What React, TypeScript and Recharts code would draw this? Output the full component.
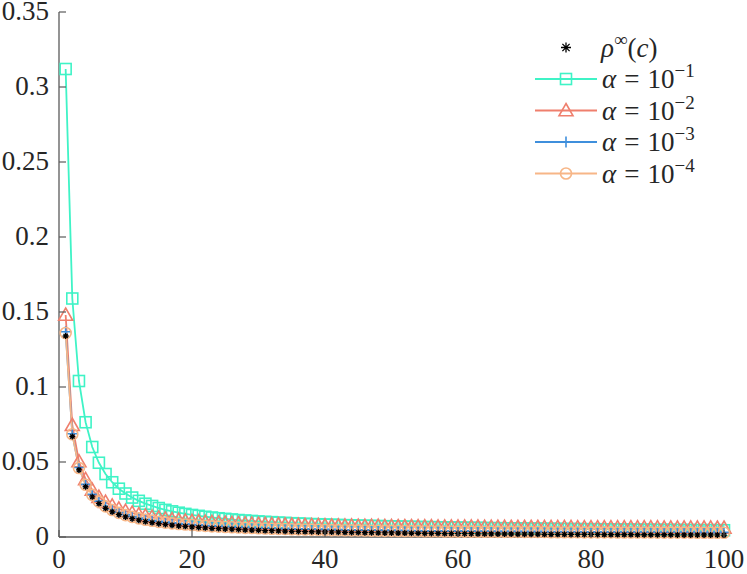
import React from 'react';
import { LineChart, Line, XAxis, YAxis } from 'recharts';

// values, c = 1..100
const rhoInf = [
  0.1340, 0.0670, 0.0447, 0.0335, 0.0268, 0.0223, 0.0191, 0.0168, 0.0149, 0.0134,
  0.0122, 0.0112, 0.0103, 0.0096, 0.0089, 0.0084, 0.0079, 0.0074, 0.0071, 0.0067,
  0.0064, 0.0061, 0.0058, 0.0056, 0.0054, 0.0052, 0.0050, 0.0048, 0.0046, 0.0045,
  0.0043, 0.0042, 0.0041, 0.0039, 0.0038, 0.0037, 0.0036, 0.0035, 0.0034, 0.0034,
  0.0033, 0.0032, 0.0031, 0.0030, 0.0030, 0.0029, 0.0029, 0.0028, 0.0027, 0.0027,
  0.0026, 0.0026, 0.0025, 0.0025, 0.0024, 0.0024, 0.0024, 0.0023, 0.0023, 0.0022,
  0.0022, 0.0022, 0.0021, 0.0021, 0.0021, 0.0020, 0.0020, 0.0020, 0.0019, 0.0019,
  0.0019, 0.0019, 0.0018, 0.0018, 0.0018, 0.0018, 0.0017, 0.0017, 0.0017, 0.0017,
  0.0017, 0.0016, 0.0016, 0.0016, 0.0016, 0.0016, 0.0015, 0.0015, 0.0015, 0.0015,
  0.0015, 0.0015, 0.0014, 0.0014, 0.0014, 0.0014, 0.0014, 0.0014, 0.0014, 0.0013,
];

const alpha1 = [
  0.3120, 0.1590, 0.1040, 0.0765, 0.0600, 0.0495, 0.0420, 0.0365, 0.0322, 0.0290,
  0.0263, 0.0241, 0.0222, 0.0207, 0.0193, 0.0181, 0.0171, 0.0162, 0.0154, 0.0147,
  0.0141, 0.0135, 0.0130, 0.0125, 0.0121, 0.0117, 0.0113, 0.0110, 0.0107, 0.0104,
  0.0101, 0.0099, 0.0096, 0.0094, 0.0092, 0.0090, 0.0088, 0.0086, 0.0085, 0.0083,
  0.0082, 0.0080, 0.0079, 0.0078, 0.0076, 0.0075, 0.0074, 0.0073, 0.0072, 0.0071,
  0.0070, 0.0069, 0.0068, 0.0067, 0.0066, 0.0066, 0.0065, 0.0064, 0.0063, 0.0063,
  0.0062, 0.0061, 0.0061, 0.0060, 0.0059, 0.0059, 0.0058, 0.0058, 0.0057, 0.0057,
  0.0056, 0.0056, 0.0055, 0.0055, 0.0054, 0.0054, 0.0053, 0.0053, 0.0052, 0.0052,
  0.0052, 0.0051, 0.0051, 0.0050, 0.0050, 0.0050, 0.0049, 0.0049, 0.0049, 0.0048,
  0.0048, 0.0048, 0.0047, 0.0047, 0.0047, 0.0046, 0.0046, 0.0046, 0.0046, 0.0045,
];

const alpha2 = [
  0.1480, 0.0745, 0.0503, 0.0384, 0.0313, 0.0266, 0.0232, 0.0207, 0.0188, 0.0172,
  0.0160, 0.0149, 0.0141, 0.0133, 0.0127, 0.0121, 0.0116, 0.0112, 0.0108, 0.0105,
  0.0102, 0.0099, 0.0097, 0.0095, 0.0093, 0.0091, 0.0089, 0.0088, 0.0086, 0.0085,
  0.0084, 0.0083, 0.0082, 0.0081, 0.0080, 0.0079, 0.0078, 0.0077, 0.0077, 0.0076,
  0.0075, 0.0075, 0.0074, 0.0074, 0.0073, 0.0073, 0.0072, 0.0072, 0.0071, 0.0071,
  0.0070, 0.0070, 0.0070, 0.0069, 0.0069, 0.0069, 0.0068, 0.0068, 0.0068, 0.0067,
  0.0067, 0.0067, 0.0067, 0.0066, 0.0066, 0.0066, 0.0066, 0.0065, 0.0065, 0.0065,
  0.0065, 0.0065, 0.0064, 0.0064, 0.0064, 0.0064, 0.0064, 0.0063, 0.0063, 0.0063,
  0.0063, 0.0063, 0.0063, 0.0062, 0.0062, 0.0062, 0.0062, 0.0062, 0.0062, 0.0062,
  0.0061, 0.0061, 0.0061, 0.0061, 0.0061, 0.0061, 0.0061, 0.0061, 0.0060, 0.0060,
];

const alpha3 = [
  0.1368, 0.0688, 0.0463, 0.0351, 0.0284, 0.0239, 0.0207, 0.0183, 0.0164, 0.0149,
  0.0137, 0.0127, 0.0118, 0.0111, 0.0104, 0.0099, 0.0094, 0.0090, 0.0086, 0.0083,
  0.0080, 0.0077, 0.0074, 0.0072, 0.0070, 0.0068, 0.0066, 0.0064, 0.0063, 0.0061,
  0.0060, 0.0058, 0.0057, 0.0056, 0.0055, 0.0054, 0.0053, 0.0052, 0.0051, 0.0050,
  0.0049, 0.0049, 0.0048, 0.0047, 0.0047, 0.0046, 0.0045, 0.0045, 0.0044, 0.0044,
  0.0043, 0.0043, 0.0042, 0.0042, 0.0041, 0.0041, 0.0041, 0.0040, 0.0040, 0.0039,
  0.0039, 0.0039, 0.0038, 0.0038, 0.0038, 0.0037, 0.0037, 0.0037, 0.0037, 0.0036,
  0.0036, 0.0036, 0.0036, 0.0035, 0.0035, 0.0035, 0.0035, 0.0035, 0.0034, 0.0034,
  0.0034, 0.0034, 0.0034, 0.0033, 0.0033, 0.0033, 0.0033, 0.0033, 0.0033, 0.0032,
  0.0032, 0.0032, 0.0032, 0.0032, 0.0032, 0.0031, 0.0031, 0.0031, 0.0031, 0.0031,
];

const alpha4 = [
  0.1360, 0.0685, 0.0460, 0.0348, 0.0281, 0.0236, 0.0204, 0.0180, 0.0161, 0.0146,
  0.0134, 0.0124, 0.0115, 0.0108, 0.0101, 0.0096, 0.0091, 0.0087, 0.0083, 0.0080,
  0.0077, 0.0074, 0.0071, 0.0069, 0.0067, 0.0065, 0.0063, 0.0061, 0.0060, 0.0058,
  0.0057, 0.0055, 0.0054, 0.0053, 0.0052, 0.0051, 0.0050, 0.0049, 0.0048, 0.0047,
  0.0046, 0.0046, 0.0045, 0.0044, 0.0044, 0.0043, 0.0042, 0.0042, 0.0041, 0.0041,
  0.0040, 0.0040, 0.0039, 0.0039, 0.0038, 0.0038, 0.0038, 0.0037, 0.0037, 0.0036,
  0.0036, 0.0036, 0.0035, 0.0035, 0.0035, 0.0034, 0.0034, 0.0034, 0.0034, 0.0033,
  0.0033, 0.0033, 0.0033, 0.0032, 0.0032, 0.0032, 0.0032, 0.0032, 0.0031, 0.0031,
  0.0031, 0.0031, 0.0031, 0.0030, 0.0030, 0.0030, 0.0030, 0.0030, 0.0030, 0.0029,
  0.0029, 0.0029, 0.0029, 0.0029, 0.0029, 0.0028, 0.0028, 0.0028, 0.0028, 0.0028,
];

const xTicks = [0, 20, 40, 60, 80, 100];
const yTicks = [0, 0.05, 0.1, 0.15, 0.2, 0.25, 0.3, 0.35];
const yTickLabels = ['0', '0.05', '0.1', '0.15', '0.2', '0.25', '0.3', '0.35'];

const data = rhoInf.map((v, i) => ({
  c: i + 1,
  rho: v,
  a1: alpha1[i],
  a2: alpha2[i],
  a3: alpha3[i],
  a4: alpha4[i],
}));

const CYAN = '#3ff3c6';
const SALMON = '#ef7f6d';
const BLUE = '#3f8fdc';
const PEACH = '#f7b687';
const AX = '#5a5a5a';
const TXT = '#262626';
const SERIF = 'Liberation Serif';

// marker shapes
const square = (cx: number, cy: number, s: number, key?: string) => (
  <rect key={key} x={cx - s} y={cy - s} width={2 * s} height={2 * s} fill="none" stroke={CYAN} strokeWidth={1.6} />
);
const triangle = (cx: number, cy: number, s: number, key?: string) => (
  <path key={key} d={`M${cx},${cy - s} L${cx + s},${cy + s * 0.75} L${cx - s},${cy + s * 0.75} Z`} fill="none" stroke={SALMON} strokeWidth={1.6} />
);
const plus = (cx: number, cy: number, s: number, key?: string) => (
  <path key={key} d={`M${cx - s},${cy} H${cx + s} M${cx},${cy - s} V${cy + s}`} stroke={BLUE} strokeWidth={1.6} />
);
const circle = (cx: number, cy: number, s: number, key?: string) => (
  <circle key={key} cx={cx} cy={cy} r={s} fill="none" stroke={PEACH} strokeWidth={1.6} />
);
const star = (cx: number, cy: number, s: number, key?: string) => {
  const d = s * 0.72;
  return (
    <path
      key={key}
      d={`M${cx - s},${cy} H${cx + s} M${cx},${cy - s} V${cy + s} M${cx - d},${cy - d} L${cx + d},${cy + d} M${cx - d},${cy + d} L${cx + d},${cy - d}`}
      stroke="#000"
      strokeWidth={1.3}
    />
  );
};

const dotOf = (fn: typeof square, s: number, tag: string) => (p: any) =>
  fn(p.cx, p.cy, s, `${tag}-${p.index}`);

const Label = (props: any) => (
  <text fontFamily={SERIF} fontSize={27} fill={TXT} {...props} />
);

const BottomTick = ({ x, y, payload }: any) => (
  <g>
    <line x1={x} y1={y} x2={x} y2={y - 7} stroke={AX} strokeWidth={1.2} />
    <Label x={x} y={y + 31} textAnchor="middle">{payload.value}</Label>
  </g>
);
const TopTick = ({ x, y }: any) => (
  <line x1={x} y1={y} x2={x} y2={y + 7} stroke={AX} strokeWidth={1.2} />
);
const LeftTick = ({ x, y, payload, index }: any) => (
  <g>
    <line x1={x} y1={y} x2={x + 7} y2={y} stroke={AX} strokeWidth={1.2} />
    <Label x={x - 10} y={y + 7.5} textAnchor="end">{yTickLabels[index] ?? payload.value}</Label>
  </g>
);
const RightTick = ({ x, y }: any) => (
  <line x1={x} y1={y} x2={x - 7} y2={y} stroke={AX} strokeWidth={1.2} />
);

const legendRows = [
  { mk: square, color: CYAN, exp: '−1', s: 5.5 },
  { mk: triangle, color: SALMON, exp: '−2', s: 7 },
  { mk: plus, color: BLUE, exp: '−3', s: 5.5 },
  { mk: circle, color: PEACH, exp: '−4', s: 5.5 },
];

function LegendBox() {
  const rowY = [47.5, 79, 110.5, 142, 173.5];
  return (
    <svg width={747} height={574} style={{ position: 'absolute', left: 0, top: 0, pointerEvents: 'none' }}>
      {star(566, rowY[0], 5)}
      <Label x={601} y={rowY[0] + 9}>
        <tspan fontStyle="italic">ρ</tspan>
        <tspan fontSize={19} dy={-11}>∞</tspan>
        <tspan dy={11}>(</tspan>
        <tspan fontStyle="italic">c</tspan>
        <tspan>)</tspan>
      </Label>
      {legendRows.map((r, i) => {
        const y = rowY[i + 1];
        return (
          <g key={i}>
            <line x1={535} y1={y} x2={597} y2={y} stroke={r.color} strokeWidth={2} />
            {r.mk(566, y, r.s)}
            <Label x={602} y={y + 9}>
              <tspan fontStyle="italic">α</tspan>
              <tspan dx={8}>=</tspan>
              <tspan dx={8}>10</tspan>
              <tspan fontSize={19} dy={-11}>{r.exp}</tspan>
            </Label>
          </g>
        );
      })}
    </svg>
  );
}

export default function App() {
  return (
    <div style={{ position: 'absolute', left: 0, top: 0, width: 747, height: 574, background: '#fff' }}>
      <LineChart width={747} height={574} data={data} margin={{ top: 12, right: 23, bottom: 0, left: 0 }}>
        <XAxis
          dataKey="c"
          type="number"
          domain={[0, 100]}
          ticks={xTicks}
          height={37}
          tickSize={0}
          tickMargin={0}
          tick={<BottomTick />}
          axisLine={{ stroke: AX, strokeWidth: 1.3 }}
          tickLine={false}
        />
        <XAxis
          xAxisId="top"
          orientation="top"
          dataKey="c"
          type="number"
          domain={[0, 100]}
          ticks={xTicks}
          height={0}
          tickSize={0}
          tickMargin={0}
          tick={<TopTick />}
          axisLine={{ stroke: AX, strokeWidth: 1.3 }}
          tickLine={false}
        />
        <YAxis
          type="number"
          domain={[0, 0.35]}
          ticks={yTicks}
          width={59}
          tickSize={0}
          tickMargin={0}
          tick={<LeftTick />}
          axisLine={{ stroke: AX, strokeWidth: 1.3 }}
          tickLine={false}
        />
        <YAxis
          yAxisId="right"
          orientation="right"
          type="number"
          domain={[0, 0.35]}
          ticks={yTicks}
          width={0}
          tickSize={0}
          tickMargin={0}
          tick={<RightTick />}
          axisLine={{ stroke: AX, strokeWidth: 1.3 }}
          tickLine={false}
        />
        <Line dataKey="a1" stroke={CYAN} strokeWidth={1.8} dot={dotOf(square, 5.5, 'sq')} isAnimationActive={false} />
        <Line dataKey="a2" stroke={SALMON} strokeWidth={1.8} dot={dotOf(triangle, 7, 'tr')} isAnimationActive={false} />
        <Line dataKey="a3" stroke={BLUE} strokeWidth={1.8} dot={dotOf(plus, 5.5, 'pl')} isAnimationActive={false} />
        <Line dataKey="a4" stroke={PEACH} strokeWidth={1.8} dot={dotOf(circle, 5.5, 'ci')} isAnimationActive={false} />
        <Line dataKey="rho" stroke="none" dot={dotOf(star, 3, 'st')} isAnimationActive={false} />
      </LineChart>
      <LegendBox />
    </div>
  );
}
